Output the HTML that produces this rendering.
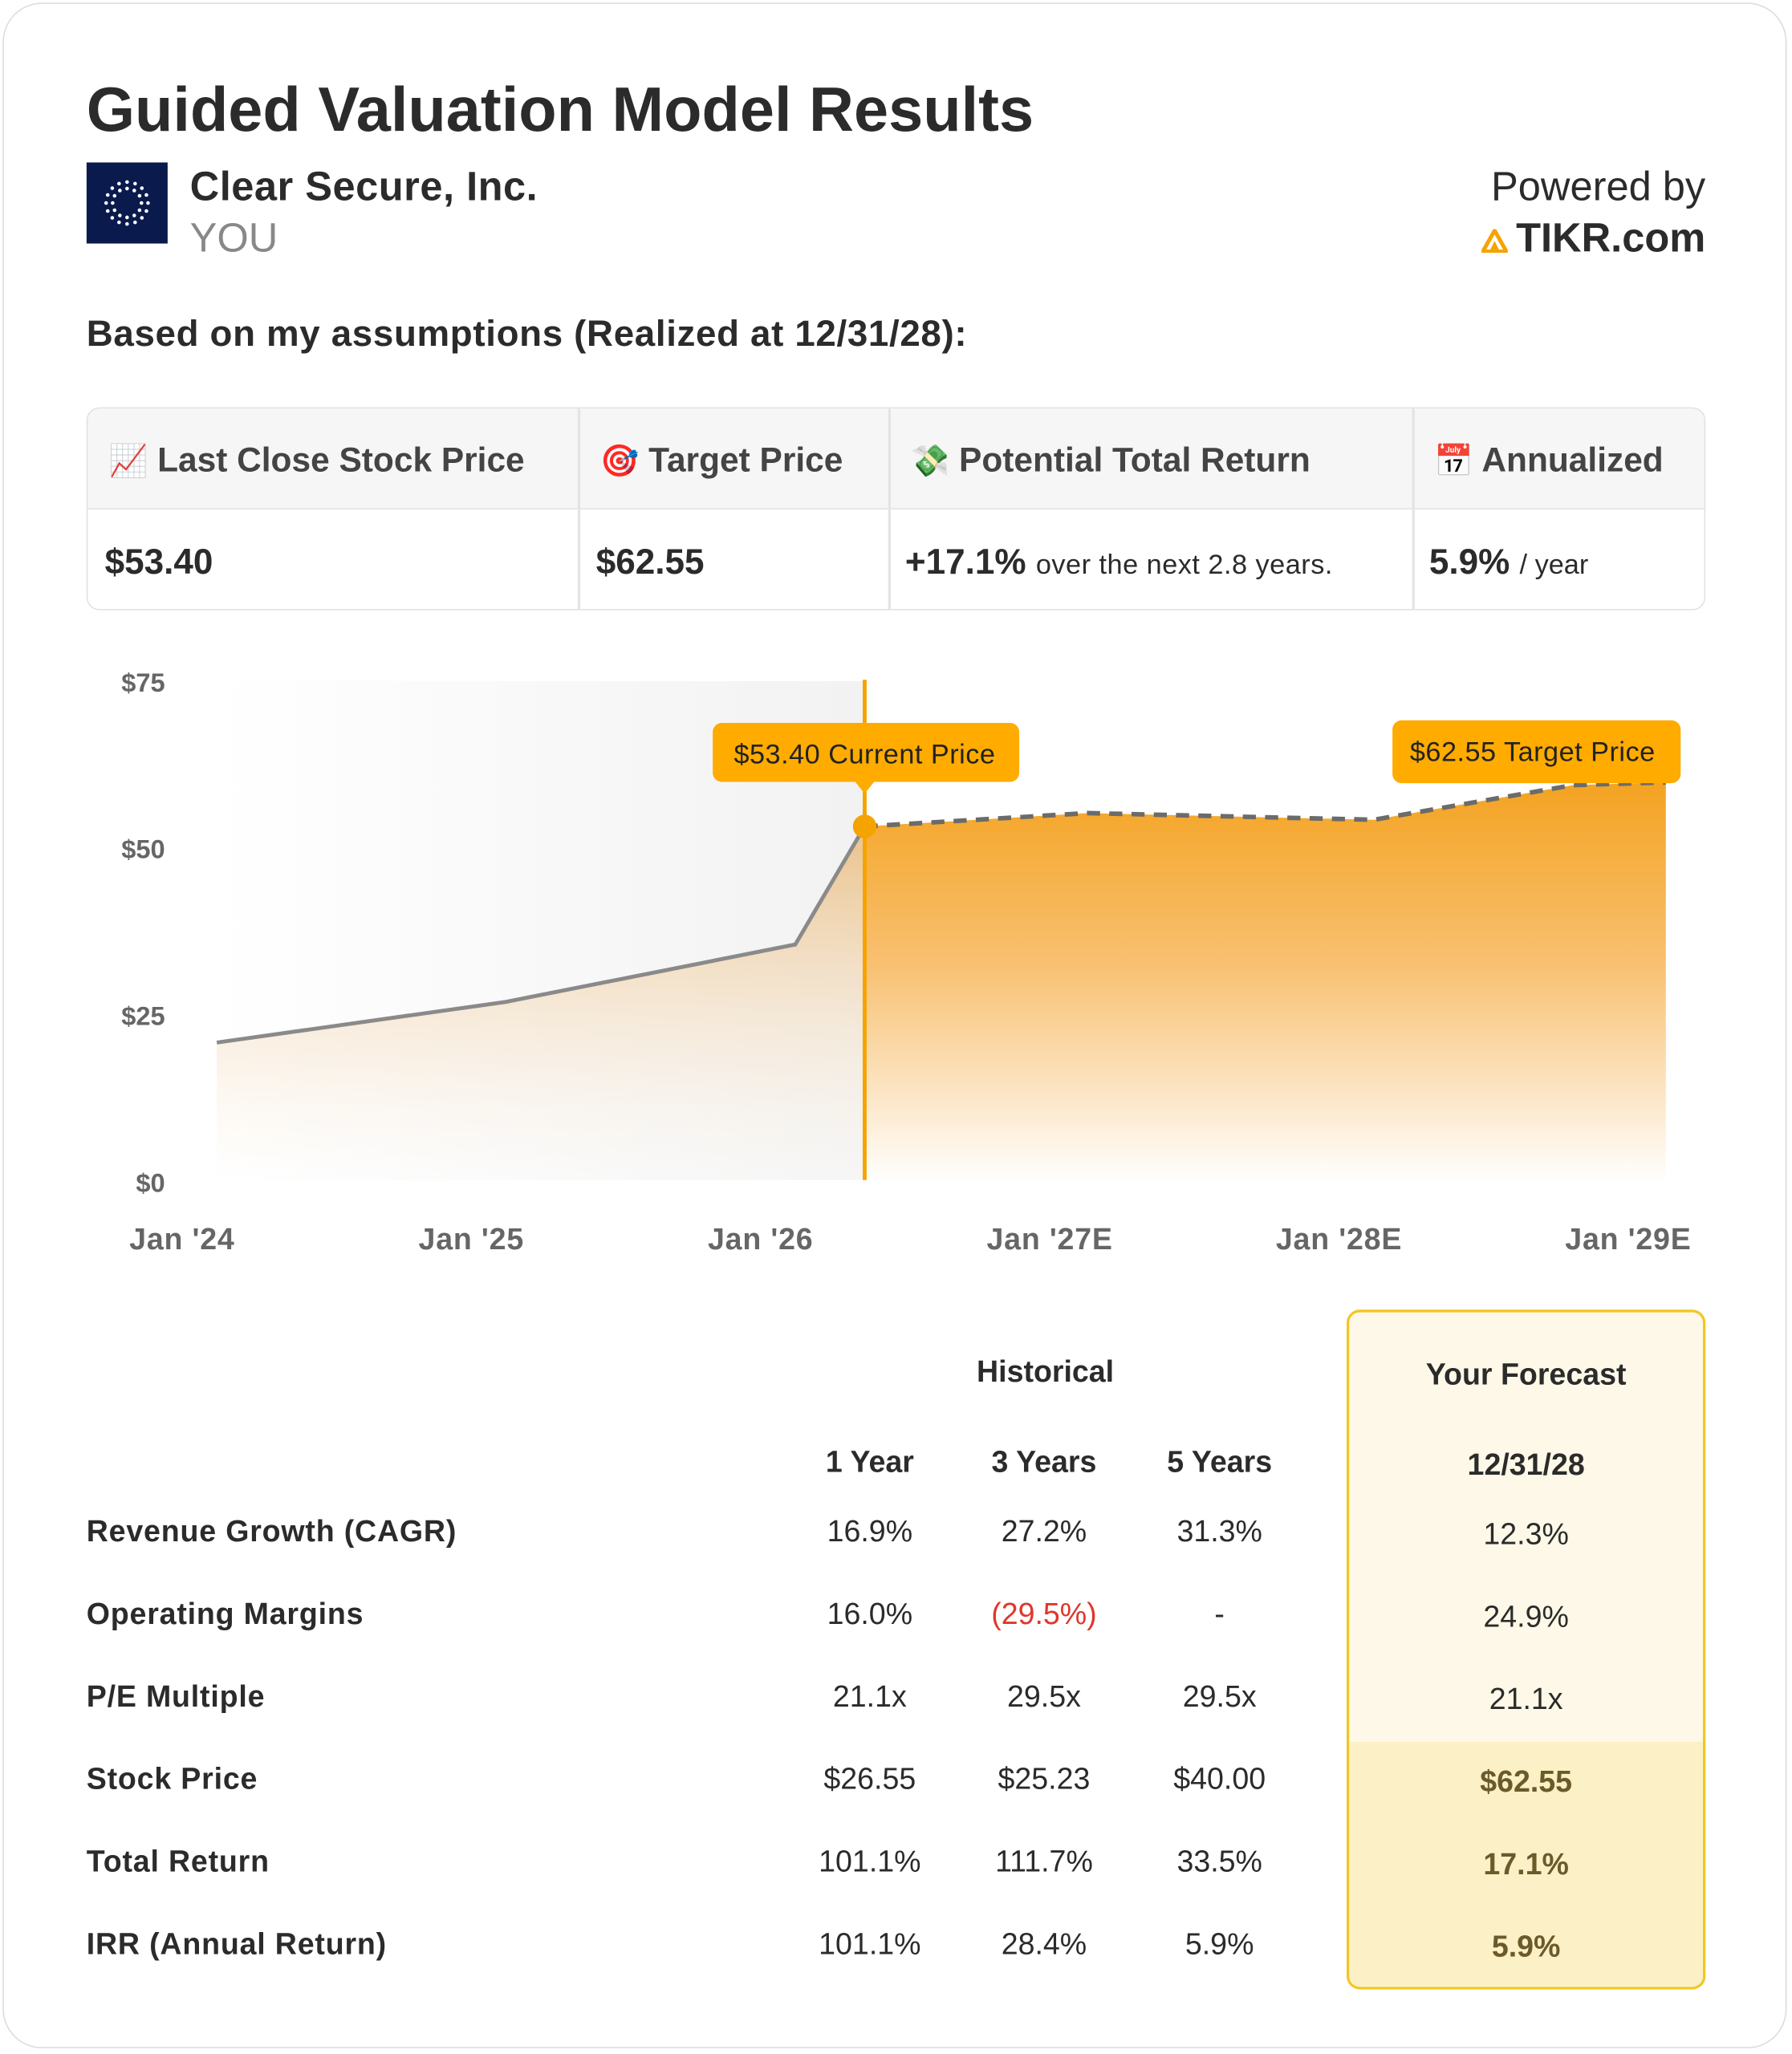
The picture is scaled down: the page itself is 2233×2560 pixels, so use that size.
<!DOCTYPE html>
<html><head><meta charset="utf-8">
<style>
html,body{margin:0;padding:0;width:2233px;height:2560px;overflow:hidden;background:#fff;}
#wrap{position:absolute;left:0;top:0;width:1368px;height:1568px;transform:scale(1.6323);transform-origin:0 0;font-family:"Liberation Sans",sans-serif;color:#2b2b2b;}
.card{position:absolute;left:2px;top:2px;width:1362px;height:1562px;border:1.5px solid #ddd;border-radius:30px;box-sizing:border-box;}
.abs{position:absolute;white-space:nowrap;}
.b{font-weight:bold;}
.tbl{position:absolute;left:66px;top:311px;width:1236px;height:155px;border:1.5px solid #e2e2e2;border-radius:10px;box-sizing:border-box;overflow:hidden;}
.hdr{position:absolute;left:0;top:0;width:100%;height:76px;background:#f6f6f6;border-bottom:1.5px solid #e4e4e4;}
.vd{position:absolute;top:0;height:100%;width:1.5px;background:#e4e4e4;}
.ht{position:absolute;top:24px;font-size:26px;font-weight:bold;color:#444;white-space:nowrap;}
.vt{position:absolute;top:102px;font-size:27px;font-weight:bold;color:#2b2b2b;white-space:nowrap;}
.c{position:absolute;transform:translateX(-50%);white-space:nowrap;font-size:23px;}
.lbl{position:absolute;left:66px;font-size:23px;font-weight:bold;white-space:nowrap;letter-spacing:0.5px;}
</style></head>
<body>
<div id="wrap">
<div class="card"></div>
<div class="abs b" style="left:66px;top:57px;font-size:47.5px;">Guided Valuation Model Results</div>
<svg class="abs" style="left:66px;top:124px" width="62" height="62">
<rect width="62" height="62" fill="#0b1a4c"/>
<g fill="#fff" id="dots"></g>
</svg>
<div class="abs b" style="left:145px;top:125px;font-size:31px;letter-spacing:0.3px">Clear Secure, Inc.</div>
<div class="abs" style="left:145px;top:164px;font-size:31px;color:#888;">YOU</div>
<div class="abs" style="right:66px;top:125px;font-size:31px;">Powered by</div>
<div class="abs b" style="right:66px;top:164px;font-size:31px;"><svg width="20" height="18" style="vertical-align:-1px;margin-right:6px" viewBox="0 0 20 18"><path d="M10 1 L19 17 H1 Z" fill="none" stroke="#f5a300" stroke-width="3"/><path d="M10 9 L14 17 H6Z" fill="#f5a300"/></svg>TIKR.com</div>
<div class="abs b" style="left:66px;top:239px;font-size:28px;letter-spacing:0.4px">Based on my assumptions (Realized at 12/31/28):</div>

<div class="tbl">
<div class="hdr"></div>
<div class="vd" style="left:374px"></div><div class="vd" style="left:611px"></div><div class="vd" style="left:1011px"></div>
<div class="ht" style="left:16px"><span style="font-size:24px">📈</span> Last Close Stock Price</div>
<div class="ht" style="left:391px"><span style="font-size:24px">🎯</span> Target Price</div>
<div class="ht" style="left:628px"><span style="font-size:24px">💸</span> Potential Total Return</div>
<div class="ht" style="left:1028px"><span style="font-size:24px">📅</span> Annualized</div>
<div class="vt" style="left:13px">$53.40</div>
<div class="vt" style="left:388px">$62.55</div>
<div class="vt" style="left:624px">+17.1% <span style="font-size:21px;font-weight:normal;letter-spacing:0.3px">over the next 2.8 years.</span></div>
<div class="vt" style="left:1024px">5.9% <span style="font-size:21px;font-weight:normal">/ year</span></div>
</div>

<svg id="chart" class="abs" style="left:0;top:490px" width="1368" height="480" viewBox="0 490 1368 480">
<defs>
<linearGradient id="histBg" x1="0" x2="1" y1="0" y2="0"><stop offset="0" stop-color="#fff"/><stop offset="1" stop-color="#f2f2f2"/></linearGradient>
<linearGradient id="histFill" x1="0" x2="0" y1="0" y2="1"><stop offset="0" stop-color="#e9b979" stop-opacity="0.85"/><stop offset="1" stop-color="#fff" stop-opacity="0.3"/></linearGradient>
<linearGradient id="fcFill" x1="0" x2="0" y1="0" y2="1"><stop offset="0" stop-color="#f4a321"/><stop offset="0.45" stop-color="#f8c070"/><stop offset="1" stop-color="#fff"/></linearGradient>
</defs>
<g id="g"></g>
</svg>

<div class="c b" style="left:798px;top:1034px">Historical</div>
<div style="position:absolute;left:1028px;top:1000px;width:274px;height:519px;border:2px solid #f3c623;border-radius:10px;box-sizing:border-box;background:#fdf8e7;overflow:hidden"><div style="position:absolute;left:0;top:328px;width:100%;height:200px;background:#fbf0c6"></div></div>
<div class="c b" style="left:1165px;top:1036px">Your Forecast</div>
<div class="c b" style="left:664px;top:1103px">1 Year</div>
<div class="c b" style="left:797px;top:1103px">3 Years</div>
<div class="c b" style="left:931px;top:1103px">5 Years</div>
<div class="c b" style="left:1165px;top:1105px">12/31/28</div>
<div id="rows"></div>
</div>
<script>
var dg=document.getElementById('dots');
for(var r=0;r<2;r++){var n=r?16:12,R=r?16:11;for(var i=0;i<n;i++){var a=i/n*Math.PI*2,c=document.createElementNS('http://www.w3.org/2000/svg','circle');c.setAttribute('cx',31+R*Math.cos(a));c.setAttribute('cy',31+R*Math.sin(a));c.setAttribute('r',1.4);dg.appendChild(c);}}

const histDates=[2024.12,2025.12,2026.12,2026.36];
const histValues=[21.0,27.1,35.7,53.4];
const fcDates=[2026.36,2027.13,2028.12,2028.81,2029.13];
const fcValues=[53.4,55.4,54.4,59.6,60.0];
const yTicks=[0,25,50,75];
const yTickLabels=['$0','$25','$50','$75'];
const xTicks=[2024,2025,2026,2027,2028,2029];
const xTickLabels=["Jan '24","Jan '25","Jan '26","Jan '27E","Jan '28E","Jan '29E"];
const currentPrice=53.40, targetPrice=62.55;

const NS='http://www.w3.org/2000/svg';
function x(t){return 139+(t-2024)*220.8;}
function y(v){return 903-v*5.093;}
var g=document.getElementById('g');
function el(tag,attrs,txt){var e=document.createElementNS(NS,tag);for(var k in attrs)e.setAttribute(k,attrs[k]);if(txt!=null)e.textContent=txt;g.appendChild(e);return e;}
function currentDate(){return histDates[histDates.length-1];}
var e;
e=el('rect',{x:x(histDates[0]),y:y(75)-1,width:x(currentDate())-x(histDates[0]),height:y(0)-y(75)-1,fill:'url(#histBg)'});


var hp=histDates.map((d,i)=>x(d)+','+y(histValues[i])).join(' L');
e=el('path',{d:'M'+x(histDates[0])+','+y(0)+' L'+hp+' L'+x(currentDate())+','+y(0)+'Z',fill:'url(#histFill)'});


var fp=fcDates.map((d,i)=>x(d)+','+y(fcValues[i])).join(' L');
e=el('path',{d:'M'+x(fcDates[0])+','+y(0)+' L'+fp+' L'+x(fcDates[fcDates.length-1])+','+y(0)+'Z',fill:'url(#fcFill)'});


e=el('path',{d:'M'+hp,fill:'none',stroke:'#8a8a8a','stroke-width':3});


e=el('path',{d:'M'+fp,fill:'none',stroke:'#6b6b6b','stroke-width':3.5,'stroke-dasharray':'10,7'});


var cx=x(currentDate());
e=el('line',{x1:cx,x2:cx,y1:y(75)-2,y2:y(0)-2,stroke:'#f5a300','stroke-width':3});


e=el('circle',{cx:cx,cy:y(currentPrice),r:9,fill:'#f5a300'});


yTicks.forEach(function(v,i){e=el('text',{x:126,y:y(v)+7,'text-anchor':'end','font-size':20,'font-weight':'bold',fill:'#666'},yTickLabels[i]);

});
xTicks.forEach(function(t,i){e=el('text',{x:x(t),y:954,'text-anchor':'middle','font-size':23,'font-weight':'bold',fill:'#666','letter-spacing':0.5},xTickLabels[i]);

});
e=el('rect',{x:cx-116,y:552,width:234,height:45,rx:7,fill:'#ffab00'});


el('path',{d:'M'+(cx-8)+',596 L'+cx+',606 L'+(cx+8)+',596Z',fill:'#ffab00'});
e=el('text',{x:cx,y:583,'text-anchor':'middle','font-size':21,fill:'#222','letter-spacing':0.3},'$'+currentPrice.toFixed(2)+' Current Price');


e=el('rect',{x:1063,y:550,width:220,height:48,rx:7,fill:'#ffab00'});


e=el('text',{x:1170,y:581,'text-anchor':'middle','font-size':21,fill:'#222','letter-spacing':0.3},'$'+targetPrice.toFixed(2)+' Target Price');



const rowLabels=['Revenue Growth (CAGR)','Operating Margins','P/E Multiple','Stock Price','Total Return','IRR (Annual Return)'];
const y1=['16.9%','16.0%','21.1x','$26.55','101.1%','101.1%'];
const y3=['27.2%','(29.5%)','29.5x','$25.23','111.7%','28.4%'];
const y5=['31.3%','-','29.5x','$40.00','33.5%','5.9%'];
const fc=['12.3%','24.9%','21.1x','$62.55','17.1%','5.9%'];
var wrap=document.getElementById('wrap');
rowLabels.forEach(function(l,i){
 var top=1156+i*63;
 var d=document.createElement('div');d.className='lbl';d.style.top=top+'px';d.textContent=l;
 
 
 wrap.appendChild(d);
 [[664,y1],[797,y3],[931,y5],[1165,fc]].forEach(function(p,j){
  var c=document.createElement('div');c.className='c';c.style.left=p[0]+'px';c.style.top=(top+(j==3?2:0))+'px';c.textContent=p[1][i];
  if(p[1][i].charAt(0)=='(')c.style.color='#e0362c';
  if(j==3&&i>=3){c.style.fontWeight='bold';c.style.color='#6b5a2a';}
  
  
  wrap.appendChild(c);
 });
});
</script>
</body></html>
